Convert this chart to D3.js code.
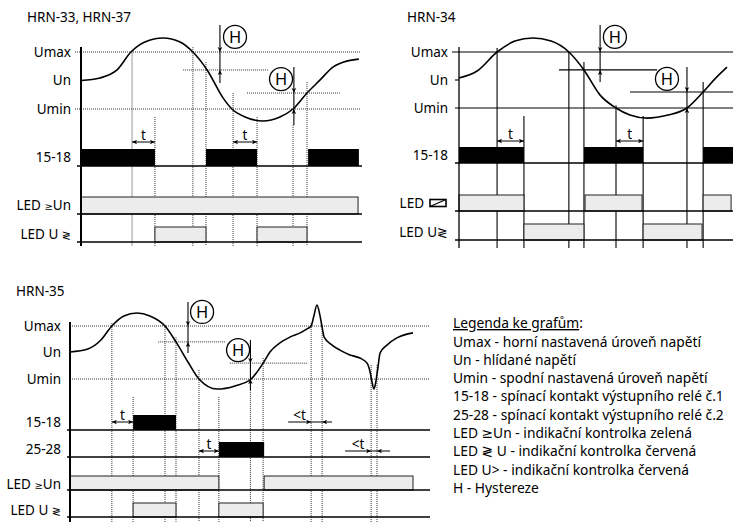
<!DOCTYPE html>
<html><head><meta charset="utf-8">
<script src="https://cdn.jsdelivr.net/npm/d3@7"></script>
<style>
body{margin:0;background:#fff;}
svg{display:block;font-family:"Noto Sans","DejaVu Sans",sans-serif;}
</style></head><body>
<svg id="c" width="740" height="522"></svg>
<script>
// ---------------- DATA ----------------
const levelLabels = ["Umax", "Un", "Umin"];
const levelValues = [3, 2, 1];

// HRN-33, HRN-37  (time 0..100, voltage: Umin=1, Un=2, Umax=3)
const p1Curve = [[0,2.0],[6.8,2.09],[12.9,2.37],[17.9,3.0],[22.9,3.35],[29.4,3.49],[35.5,3.35],[40.1,3.0],[45.2,2.37],[50.9,1.39],[54.1,1.0],[58.8,0.72],[65.2,0.58],[71.3,0.72],[76.0,1.0],[81.0,1.56],[85.7,2.02],[90.3,2.47],[95.2,2.68],[99.6,2.75]];
const p1Events = [[18.3,3.05],[26.5,0.72],[40.1,3.17],[44.8,2.65],[54.5,1.56],[63.1,0.72],[76.0,0.44],[81.0,1.95]];
const p1Hyst = [[2.37,36.6,67.0],[1.56,59.5,92.8]];
const p1H = [[49.8,3.95,1.91,3.0,2.37,55.2,3.53],[76.3,2.47,0.44,1.56,1.0,71.7,2.05]];
const p1Relay = [[0,26.5],[44.8,63.1],[81.4,99.6]];
const p1LedUn = [[0,99.3]];
const p1LedU = [[26.5,44.8],[63.1,81.0]];
const p1T = [[18.3,26.5],[54.5,63.1]];

// HRN-34
const p2Curve = [[0,2.07],[6.6,2.32],[13.9,3.0],[20.4,3.39],[27.0,3.5],[33.6,3.39],[40.1,3.0],[45.6,2.36],[51.5,1.46],[57.3,1.0],[62.4,0.75],[68.6,0.64],[76.3,0.75],[83.2,1.0],[89.1,1.57],[93.4,2.04],[97.8,2.46]];
const p2Events = [[13.9,3.14],[23.7,0.71],[40.1,3.0],[45.6,2.64],[57.3,1.1],[67.2,0.71],[83.2,0.6],[89.1,1.93]];
const p2Hyst = [[2.36,36.5,72.3],[1.57,62.4,100]];
const p2H = [[51.5,3.96,1.93,3.0,2.36,56.9,3.54],[83.2,2.46,0.6,1.57,1.0,75.9,2.04]];
const p2Relay = [[0,23.7],[45.6,67.2],[89.1,100]];
const p2LedCoil = [[0,23.7],[46.0,66.8],[89.1,99.3]];
const p2LedU = [[23.7,45.6],[67.2,88.7]];
const p2T = [[13.9,23.7],[57.3,67.2]];

// HRN-35
const p3Curve = [[0,2.02],[5.2,2.13],[9.0,2.47],[12.2,3.0],[15.7,3.38],[19.5,3.49],[23.3,3.38],[27.7,3.0],[30.9,2.40],[34.4,1.64],[37.6,1.0],[42.9,0.62],[48.1,0.74],[52.8,1.0],[56.3,1.60],[58.3,2.02],[61.2,2.36],[64.1,2.58],[67.1,2.74],[69.1,2.89],[70.3,3.0],[71.1,3.38],[72.0,3.79],[72.9,3.38],[73.5,2.96],[74.1,2.58],[76.4,2.28],[78.7,2.09],[81.6,1.91],[84.5,1.79],[86.6,1.60],[87.5,1.26],[88.0,0.92],[88.6,0.62],[89.2,0.92],[89.8,1.45],[90.4,1.98],[92.4,2.28],[95.3,2.55],[100,2.74]];
const p3Events = [[12.2,3.11],[18.4,0.32],[27.7,3.04],[30.9,2.58],[37.6,1.34],[43.4,0.32],[52.6,0.58],[56.3,1.79],[70.3,3.11],[73.5,2.96],[87.8,1.53],[89.5,1.53]];
const p3Hyst = [[2.40,25.7,45.2],[1.60,46.6,69.4]];
const p3H = [[34.4,3.91,1.98,3.0,2.40,38.5,3.53],[52.6,2.47,0.58,1.60,1.0,49.0,2.09]];
const p3Relay1 = [[18.4,30.9]];
const p3Relay2 = [[43.4,56.6]];
const p3LedUn = [[0,43.4],[56.6,100]];
const p3LedU = [[18.4,30.9],[43.4,56.3]];
const p3T1 = [[12.2,18.4]];
const p3T2 = [[37.6,43.4]];
const p3Short1 = [[63.6,70.3,73.5,76.4]];
const p3Short2 = [[80.2,87.8,89.5,93.3]];

const legendTitle = "Legenda ke grafům";
const legendLines = [
  "Umax - horní nastavená úroveň napětí",
  "Un - hlídané napětí",
  "Umin - spodní nastavená úroveň napětí",
  "15-18 - spínací kontakt výstupního relé č.1",
  "25-28 - spínací kontakt výstupního relé č.2",
  "LED ≥Un - indikační kontrolka zelená",
  "LED ≷ U - indikační kontrolka červená",
  "LED U> - indikační kontrolka červená",
  "H - Hystereze"
];

// ---------------- DRAW ----------------
const FS = 13.5;
const svg = d3.select("#c");
const defs = svg.append("defs");
defs.append("marker").attr("id","ah").attr("viewBox","0 0 10 10")
  .attr("refX",10).attr("refY",5).attr("markerWidth",6).attr("markerHeight",5)
  .attr("markerUnits","userSpaceOnUse").attr("orient","auto-start-reverse")
  .append("path").attr("d","M0,0.5 L10,5 L0,9.5 L2.5,5 z").attr("fill","#000");

function drawPanel(cfg) {
  const g = svg.append("g");
  const x = d3.scaleLinear().domain([0,100]).range(cfg.xr);
  const y = d3.scaleLinear().domain([1,3]).range(cfg.yr);
  const guide = sel => cfg.solid
    ? sel.attr("stroke","#000").attr("stroke-width",1.1)
    : sel.attr("stroke","#333").attr("stroke-width",1).attr("stroke-dasharray","1,1");

  g.append("text").attr("x",cfg.title[1]).attr("y",cfg.title[2])
    .attr("font-size",FS).text(cfg.title[0]);

  levelValues.forEach((v,i) => {
    if (!cfg.levelLines[i]) return;
    const [a,b] = cfg.levelLines[i];
    g.append("line").attr("x1",a).attr("x2",b).attr("y1",y(v)).attr("y2",y(v)).call(guide);
  });
  cfg.hyst.forEach(h => {
    g.append("line").attr("x1",x(h[1])).attr("x2",x(h[2])).attr("y1",y(h[0])).attr("y2",y(h[0])).call(guide);
  });
  cfg.events.forEach(e => {
    g.append("line").attr("x1",x(e[0])).attr("x2",x(e[0])).attr("y1",y(e[1])).attr("y2",cfg.bottom).call(guide);
  });
  cfg.rows.forEach(r => {
    r.data.forEach(iv => {
      g.append("rect").attr("x",x(iv[0])).attr("y",r.base - r.h)
        .attr("width",x(iv[1]) - x(iv[0])).attr("height",r.h)
        .attr("fill", r.kind === "black" ? "#000" : "#ececec")
        .attr("stroke", r.kind === "black" ? "none" : "#222").attr("stroke-width",1);
    });
    g.append("line").attr("x1",cfg.baseX[0]).attr("x2",cfg.baseX[1])
      .attr("y1",r.base).attr("y2",r.base).attr("stroke","#000").attr("stroke-width",1.3);
    const lx = r.coil ? cfg.labelX - 24 : cfg.labelX;
    const t = g.append("text").attr("x",lx).attr("y",r.base - r.h/2 + 4.5 + (r.dy || 0))
      .attr("text-anchor","end").attr("font-size",FS);
    r.label.forEach(s => t.append("tspan").attr("font-size", s[1] || FS).text(s[0]));
    if (r.coil) {
      const cx = cfg.labelX - 18, cy = r.base - r.h/2 - 3.5;
      g.append("rect").attr("x",cx).attr("y",cy).attr("width",16).attr("height",7)
        .attr("fill","none").attr("stroke","#000").attr("stroke-width",1.6);
      g.append("line").attr("x1",cx).attr("y1",cy+7).attr("x2",cx+16).attr("y2",cy)
        .attr("stroke","#000").attr("stroke-width",1.2);
    }
    (r.tArrows || []).forEach(a => {
      const ay = r.base - r.tY;
      g.append("line").attr("x1",x(a[0])).attr("x2",x(a[1])).attr("y1",ay).attr("y2",ay)
        .attr("stroke","#000").attr("stroke-width",1)
        .attr("marker-start","url(#ah)").attr("marker-end","url(#ah)");
      g.append("text").attr("x",(x(a[0])+x(a[1]))/2).attr("y",ay-2.5)
        .attr("text-anchor","middle").attr("font-size",FS).text("t");
    });
    (r.short || []).forEach(a => {
      const ay = r.base - r.tY;
      g.append("line").attr("x1",x(a[0])).attr("x2",x(a[1])).attr("y1",ay).attr("y2",ay)
        .attr("stroke","#000").attr("stroke-width",1).attr("marker-end","url(#ah)");
      g.append("line").attr("x1",x(a[3])).attr("x2",x(a[2])).attr("y1",ay).attr("y2",ay)
        .attr("stroke","#000").attr("stroke-width",1).attr("marker-end","url(#ah)");
      g.append("line").attr("x1",x(a[1])).attr("x2",x(a[2])).attr("y1",ay).attr("y2",ay)
        .attr("stroke","#000").attr("stroke-width",1);
      g.append("text").attr("x",(x(a[0])+x(a[1]))/2).attr("y",ay-2)
        .attr("text-anchor","middle").attr("font-size",FS).text("<t");
    });
  });

  g.append("path").datum(cfg.curve)
    .attr("d", d3.line().x(d => x(d[0])).y(d => y(d[1])).curve(d3.curveMonotoneX))
    .attr("fill","none").attr("stroke","#000").attr("stroke-width",1.6);

  cfg.H.forEach(h => {
    const [t, top, bot, down, up, ct, cu] = h;
    const hx = x(t);
    g.append("line").attr("x1",hx).attr("x2",hx).attr("y1",y(top)).attr("y2",y(down))
      .attr("stroke","#000").attr("stroke-width",1.1).attr("marker-end","url(#ah)");
    g.append("line").attr("x1",hx).attr("x2",hx).attr("y1",y(bot)).attr("y2",y(up))
      .attr("stroke","#000").attr("stroke-width",1.1).attr("marker-end","url(#ah)");
    g.append("line").attr("x1",hx).attr("x2",hx).attr("y1",y(down)).attr("y2",y(up))
      .attr("stroke","#000").attr("stroke-width",1.1);
    g.append("circle").attr("cx",x(ct)).attr("cy",y(cu)).attr("r",11.5)
      .attr("fill","#fff").attr("stroke","#000").attr("stroke-width",1.3);
    g.append("text").attr("x",x(ct)).attr("y",y(cu)+5.8).attr("text-anchor","middle")
      .attr("font-size",16.5).text("H");
  });

  g.append("line").attr("x1",x(0)).attr("x2",x(0)).attr("y1",cfg.axisY[0]).attr("y2",cfg.bottom)
    .attr("stroke","#000").attr("stroke-width",cfg.axisW);
  levelLabels.forEach((l,i) => {
    g.append("text").attr("x",cfg.labelX).attr("y",y(levelValues[i]) + 4.7)
      .attr("text-anchor","end").attr("font-size",FS).text(l);
  });
}

drawPanel({
  title:["HRN-33, HRN-37",27,22], xr:[81,360], yr:[109,52], solid:false,
  levelLines:[[75,361],null,[75,361]], axisY:[47,0], bottom:246, axisW:2,
  baseX:[77,362], labelX:71,
  curve:p1Curve, events:p1Events, hyst:p1Hyst, H:p1H,
  rows:[
    {label:[["15-18"]], base:166, h:17, kind:"black", data:p1Relay, tArrows:p1T, tY:24},
    {label:[["LED "],["≥",10],["Un"]], base:214, h:17, kind:"gray", data:p1LedUn},
    {label:[["LED U "],["≷",11]], base:242, h:15, kind:"gray", data:p1LedU}
  ]
});
drawPanel({
  title:["HRN-34",407,22], xr:[459,733], yr:[108,52], solid:true,
  levelLines:[[452,733],[455,459],[455,733]], axisY:[47,0], bottom:248, axisW:1.3,
  baseX:[455,733], labelX:448,
  curve:p2Curve, events:p2Events, hyst:p2Hyst, H:p2H,
  rows:[
    {label:[["15-18"]], base:163, h:16, kind:"black", data:p2Relay, tArrows:p2T, tY:22},
    {label:[["LED"]], base:211, h:16, kind:"gray", data:p2LedCoil, coil:true},
    {label:[["LED U"],["≷",13]], base:240, h:16, kind:"gray", data:p2LedU}
  ]
});
drawPanel({
  title:["HRN-35",16,296], xr:[70,413], yr:[379,326], solid:false,
  levelLines:[[72,430],null,[72,430]], axisY:[322,0], bottom:522, axisW:2,
  baseX:[67,430], labelX:61,
  curve:p3Curve, events:p3Events, hyst:p3Hyst, H:p3H,
  rows:[
    {label:[["15-18"]], base:430, h:15, kind:"black", data:p3Relay1, tArrows:p3T1, short:p3Short1, tY:8},
    {label:[["25-28"]], base:457, h:15, kind:"black", data:p3Relay2, tArrows:p3T2, short:p3Short2, tY:6},
    {label:[["LED "],["≥",10],["Un"]], base:490, h:14, kind:"gray", data:p3LedUn, dy:1},
    {label:[["LED U "],["≷",11]], base:517, h:14, kind:"gray", data:p3LedU}
  ]
});

// legend
const lg = svg.append("g").attr("font-size",13.8);
const lt = lg.append("text").attr("x",453).attr("y",328);
lt.append("tspan").attr("text-decoration","underline").text(legendTitle);
lt.append("tspan").text(":");
legendLines.forEach((s,i) => {
  lg.append("text").attr("x",453).attr("y",346.5 + i*18.3).text(s);
});
</script>
</body></html>
